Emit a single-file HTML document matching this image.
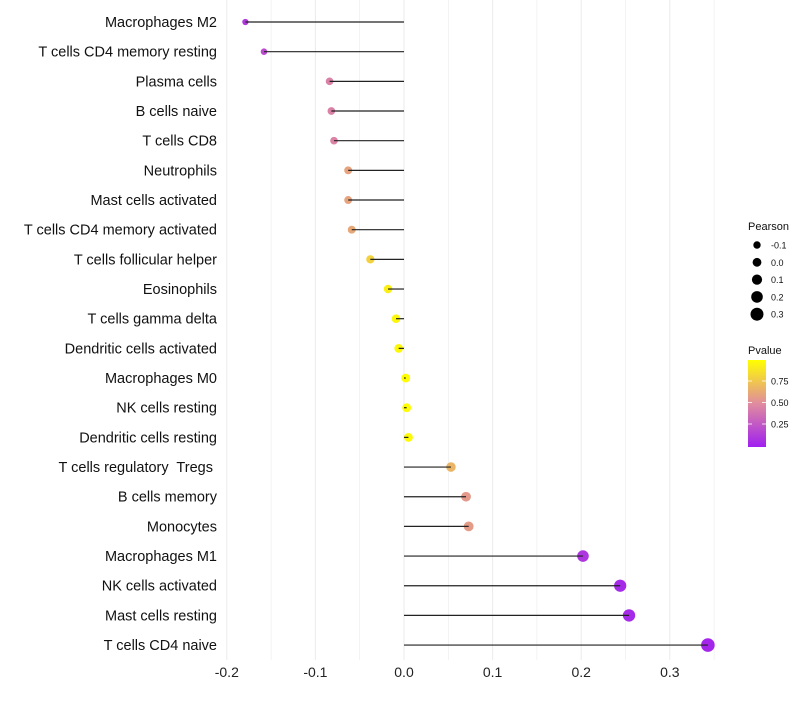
<!DOCTYPE html>
<html><head><meta charset="utf-8"><style>
body{margin:0;background:#fff;font-family:"Liberation Sans",sans-serif}
svg text{font-family:"Liberation Sans",sans-serif;white-space:pre}
</style></head><body>
<svg id="c" width="800" height="700">
<defs><linearGradient id="g" x1="0" y1="1" x2="0" y2="0">
<stop offset="0" stop-color="#A020F0"/><stop offset="0.5" stop-color="#E08C9E"/><stop offset="1" stop-color="#FFFF00"/></linearGradient></defs>
</svg>
<script>
const categories=["Macrophages M2","T cells CD4 memory resting","Plasma cells","B cells naive","T cells CD8","Neutrophils","Mast cells activated","T cells CD4 memory activated","T cells follicular helper","Eosinophils","T cells gamma delta","Dendritic cells activated","Macrophages M0","NK cells resting","Dendritic cells resting","T cells regulatory  Tregs ","B cells memory","Monocytes","Macrophages M1","NK cells activated","Mast cells resting","T cells CD4 naive"];
const pearson=[-0.179,-0.158,-0.084,-0.082,-0.079,-0.063,-0.063,-0.059,-0.038,-0.018,-0.009,-0.006,0.002,0.003,0.005,0.053,0.070,0.073,0.202,0.244,0.254,0.343];
const pvalue=[0.12,0.2,0.45,0.45,0.46,0.6,0.6,0.62,0.8,0.93,0.96,0.97,0.99,0.99,0.98,0.68,0.56,0.57,0.1,0.05,0.05,0.03];
const xTicks=[-0.2,-0.1,0.0,0.1,0.2,0.3];
const sizeLegend=[-0.1,0.0,0.1,0.2,0.3];
const colorTicks=[0.25,0.5,0.75];
const NS="http://www.w3.org/2000/svg",svg=document.getElementById('c');
const x=v=>404+v*886, y=i=>22+i*29.67, r=v=>4.4+7*v;
function col(p){const a=[160,32,240],m=[224,140,158],b=[255,255,0];let s,e,t;if(p<0.5){s=a;e=m;t=p/0.5}else{s=m;e=b;t=(p-0.5)/0.5}
return `rgb(${s.map((c,k)=>Math.round(c+(e[k]-c)*t)).join(',')})`;}
function el(t,a,txt){const e=document.createElementNS(NS,t);for(const k in a)e.setAttribute(k,a[k]);if(txt!==undefined)e.textContent=txt;svg.appendChild(e);return e;}
for(let v=-0.2;v<=0.351;v+=0.05){const g=el('line',{x1:x(v),x2:x(v),y1:0,y2:660,stroke:'#ebebeb','stroke-width':Math.abs(Math.round(v*20))%2?0.6:1});

}
xTicks.forEach(v=>{const t=el('text',{x:x(v),y:677,'font-size':14,'text-anchor':'middle',fill:'#222'},v.toFixed(1));

});
categories.forEach((c,i)=>{
const t=el('text',{x:217,y:y(i)+5,'font-size':14.5,'text-anchor':'end',fill:'#111'},c);


const d=el('circle',{cx:x(pearson[i]),cy:y(i),r:r(pearson[i]),fill:col(pvalue[i])});


const l=el('line',{x1:x(0),x2:x(pearson[i]),y1:y(i),y2:y(i),stroke:'#222','stroke-width':1.2});


});
const lt=el('text',{x:748,y:230,'font-size':11,fill:'#111'},'Pearson');


sizeLegend.forEach((v,i)=>{const cy=245+i*17.3;
const c=el('circle',{cx:757,cy:cy,r:r(v),fill:'#000'});


const t=el('text',{x:771,y:cy+3.5,'font-size':9,fill:'#111'},v.toFixed(1));

});
const pt=el('text',{x:748,y:354,'font-size':11,fill:'#111'},'Pvalue');


const bar=el('rect',{x:748,y:360,width:18,height:87,fill:'url(#g)'});


colorTicks.forEach(v=>{const yy=445.5-v*86;
el('line',{x1:748,x2:752,y1:yy,y2:yy,stroke:'#fff','stroke-width':0.8});
el('line',{x1:762,x2:766,y1:yy,y2:yy,stroke:'#fff','stroke-width':0.8});
const t=el('text',{x:771,y:yy+3.5,'font-size':9,fill:'#111'},v.toFixed(2));

});
</script>
</body></html>
